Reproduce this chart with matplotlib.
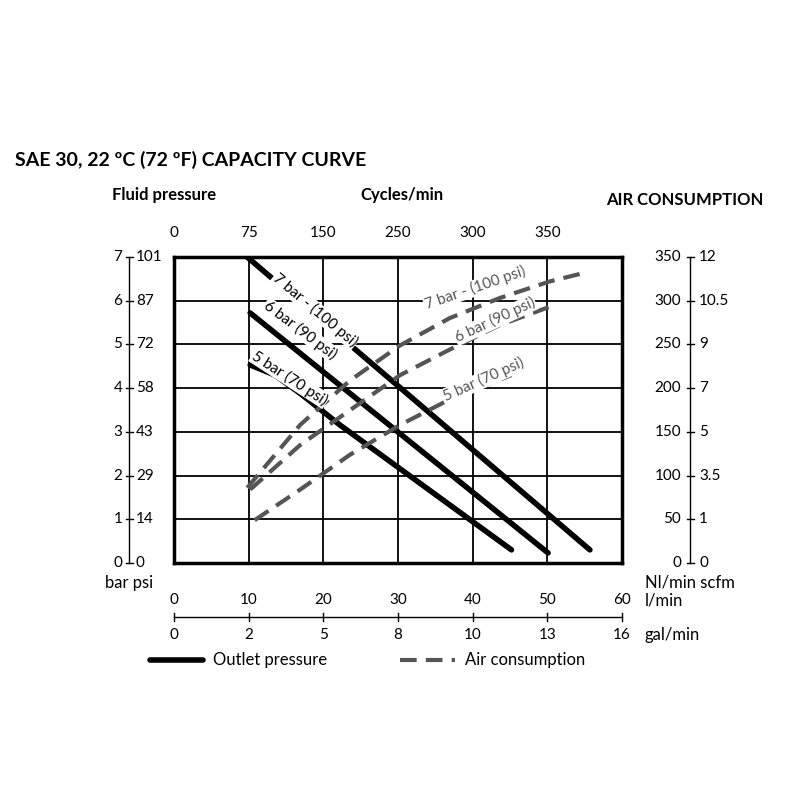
import matplotlib
matplotlib.use('Agg')
from matplotlib import pyplot as plt
from matplotlib.lines import Line2D

plt.rcParams['font.family'] = ['Lato', 'DejaVu Sans']
FS = 11

# ----- data (x in l/min) -----
# outlet pressure, bar
out7_x = [9.8, 55.7]
out7_y = [7.0, 0.3]
out6_x = [10.2, 50.1]
out6_y = [5.72, 0.23]
out5_x = [10.2, 13.5, 16.9, 22.2, 45.2]
out5_y = [4.53, 4.3, 3.88, 3.16, 0.3]

# air consumption, Nl/min
air7_x = [9.8, 16.9, 23.6, 30.3, 36.9, 43.6, 50.3, 55.0]
air7_y = [86, 158, 209, 249, 280, 303, 322, 332]
air6_x = [10.2, 16.9, 23.6, 30.3, 36.9, 43.6, 50.3]
air6_y = [84, 135, 175, 215, 244, 272, 293]
air5_x = [10.8, 16.9, 23.6, 30.3, 36.9, 45.2]
air5_y = [49, 84, 124, 158, 187, 215]

bar_ticks = [0, 1, 2, 3, 4, 5, 6, 7]
psi_labels = ['0', '14', '29', '43', '58', '72', '87', '101']
nl_labels = ['0', '50', '100', '150', '200', '250', '300', '350']
scfm_labels = ['0', '1', '3.5', '5', '7', '9', '10.5', '12']
lmin_ticks = [0, 10, 20, 30, 40, 50, 60]
gal_labels = ['0', '2', '5', '8', '10', '13', '16']
cyc_labels = ['0', '75', '150', '250', '300', '350']

fig = plt.figure(figsize=(8, 8), dpi=100)
ax = fig.add_axes([174/800, 237/800, 448/800, 306/800])
ax.set_xlim(0, 60)
ax.set_ylim(0, 7)
ax.set_xticks(lmin_ticks)
ax.set_yticks(bar_ticks)
ax.tick_params(length=0, labelbottom=False, labelleft=False)
ax.grid(color='black', linewidth=1.3)
for s in ax.spines.values():
    s.set_linewidth(2.5)

solid = dict(color='black', linewidth=4, solid_capstyle='round', zorder=3)
dash = dict(color='#555555', linewidth=3, dashes=(4, 2.2), zorder=3)
ax.plot(out7_x, out7_y, **solid)
ax.plot(out6_x, out6_y, **solid)
ax.plot(out5_x, out5_y, **solid)
ax.plot(air7_x, [v/50 for v in air7_y], **dash)
ax.plot(air6_x, [v/50 for v in air6_y], **dash)
ax.plot(air5_x, [v/50 for v in air5_y], **dash)

bk = dict(fontsize=FS, ha='center', va='center', zorder=4,
          bbox=dict(facecolor='white', edgecolor='none', pad=0.5))
ax.text(18.9, 5.79, '7 bar - (100 psi)', rotation=-40, **bk)
ax.text(16.9, 5.33, '6 bar (90 psi)', rotation=-37, **bk)
ax.text(15.5, 4.23, '5 bar (70 psi)', rotation=-33, **bk)
gk = dict(fontsize=FS, ha='center', va='center', color='#555555', zorder=4,
          bbox=dict(facecolor='white', edgecolor='none', pad=0.5))
ax.text(40.3, 6.29, '7 bar - (100 psi)', rotation=19, **gk)
ax.text(43.0, 5.56, '6 bar (90 psi)', rotation=25, **gk)
ax.text(41.4, 4.19, '5 bar (70 psi)', rotation=24, **gk)

yt = ax.get_yaxis_transform()
xt = ax.get_xaxis_transform()
# left axis
lx = -0.1
ax.plot([lx, lx], [0, 7], transform=yt, color='black', lw=1, clip_on=False)
for b, p in zip(bar_ticks, psi_labels):
    ax.plot([lx - 0.008, lx + 0.008], [b, b], transform=yt, color='black', lw=1, clip_on=False)
    ax.text(lx - 0.015, b, str(b), transform=yt, ha='right', va='center', fontsize=FS)
    ax.text(lx + 0.015, b, p, transform=yt, ha='left', va='center', fontsize=FS)
ax.text(lx, -0.45, 'bar psi', transform=yt, ha='center', va='center', fontsize=FS + 1)
# right axis
rx = 1.152
ax.plot([rx, rx], [0, 7], transform=yt, color='black', lw=1, clip_on=False)
for b, n, s in zip(bar_ticks, nl_labels, scfm_labels):
    ax.plot([rx - 0.008, rx + 0.008], [b, b], transform=yt, color='black', lw=1, clip_on=False)
    ax.text(rx - 0.02, b, n, transform=yt, ha='right', va='center', fontsize=FS)
    ax.text(rx + 0.02, b, s, transform=yt, ha='left', va='center', fontsize=FS)
ax.text(rx, -0.45, 'Nl/min scfm', transform=yt, ha='center', va='center', fontsize=FS + 1)
# bottom axes
by = -0.176
ax.plot([0, 60], [by, by], transform=xt, color='black', lw=1, clip_on=False)
for x, g in zip(lmin_ticks, gal_labels):
    ax.plot([x, x], [by - 0.012, by + 0.012], transform=xt, color='black', lw=1, clip_on=False)
    ax.text(x, by + 0.055, str(x), transform=xt, ha='center', va='center', fontsize=FS)
    ax.text(x, by - 0.06, g, transform=xt, ha='center', va='center', fontsize=FS)
ax.text(63, by + 0.055, 'l/min', transform=xt, ha='left', va='center', fontsize=FS + 1)
ax.text(63, by - 0.06, 'gal/min', transform=xt, ha='left', va='center', fontsize=FS + 1)
# top cycles
for x, c in zip(lmin_ticks, cyc_labels):
    ax.text(x, 1.08, c, transform=xt, ha='center', va='center', fontsize=FS)

fig.text(15/800, 1 - 160/800, 'SAE 30, 22 ºC (72 ºF) CAPACITY CURVE', fontsize=14,
         fontweight='bold', va='center')
fig.text(112/800, 1 - 195/800, 'Fluid pressure', fontsize=12, fontweight='bold', va='center')
fig.text(360/800, 1 - 195/800, 'Cycles/min', fontsize=12, fontweight='bold', va='center')
fig.text(606/800, 1 - 200/800, 'AIR CONSUMPTION', fontsize=12, fontweight='bold', va='center')

# legend
ly = 1 - 660/800
fig.add_artist(Line2D([150/800, 203/800], [ly, ly], color='black', lw=4, solid_capstyle='round'))
fig.text(213/800, ly, 'Outlet pressure', fontsize=FS + 1, va='center')
fig.add_artist(Line2D([400/800, 455/800], [ly, ly], color='#555555', lw=3, dashes=(4, 2.2)))
fig.text(465/800, ly, 'Air consumption', fontsize=FS + 1, va='center')

fig.savefig('out.png', dpi=100)
